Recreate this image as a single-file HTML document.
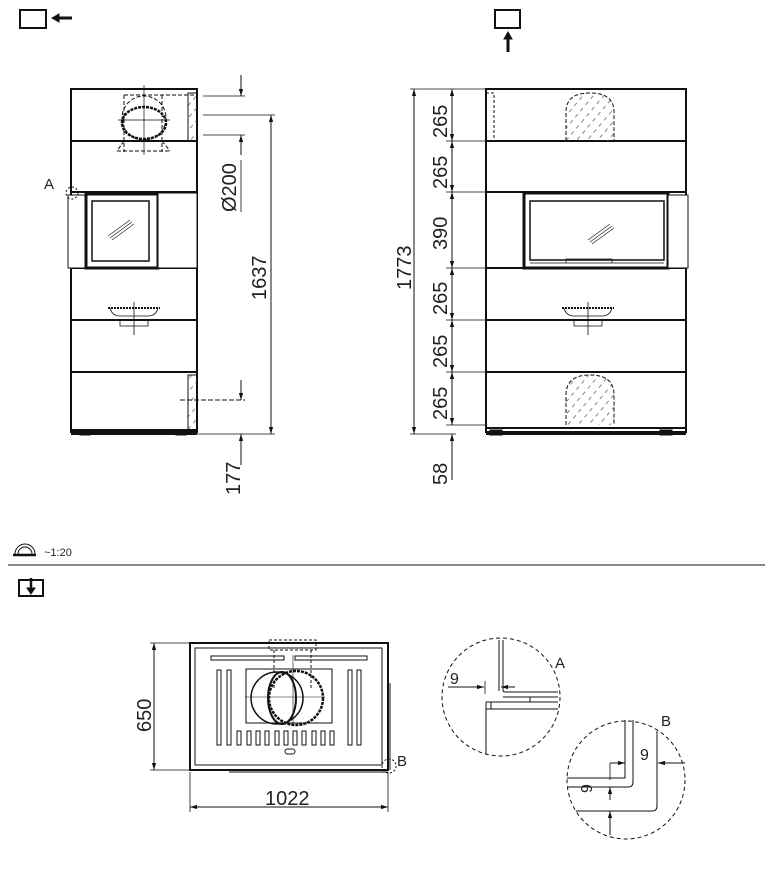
<!DOCTYPE html>
<html><head><meta charset="utf-8"><style>
html,body{margin:0;padding:0;background:#fff}
svg{display:block}
text{font-family:"Liberation Sans",sans-serif;fill:#222}
</style></head><body>
<svg width="778" height="883" viewBox="0 0 778 883" xmlns="http://www.w3.org/2000/svg">
<defs>
<marker id="ar" viewBox="0 0 10 10" refX="10" refY="5" markerWidth="7" markerHeight="7" orient="auto-start-reverse"><path d="M0,2 L10,5 L0,8 z" fill="#111"/></marker>
<pattern id="hat" width="8" height="8" patternUnits="userSpaceOnUse" patternTransform="rotate(-50)"><line x1="0" y1="4" x2="4" y2="4" stroke="#666" stroke-width="0.8"/></pattern>
</defs>
<g fill="none" stroke="#111" stroke-width="1">
<!-- icons -->
<rect x="20" y="10" width="26" height="18" stroke-width="2"/>
<path d="M58 18 L72 18" stroke-width="3"/><path d="M52 18 L59 14 L59 22 z" fill="#111"/>
<rect x="495" y="10" width="25" height="18" stroke-width="2"/>
<path d="M508 52 L508 38" stroke-width="3"/><path d="M508 32 L504 39 L512 39 z" fill="#111"/>

<!-- LEFT VIEW -->
<rect x="71" y="89" width="126" height="343" stroke-width="2"/>
<path d="M71 141H197M71 192H197M71 268H197M71 320H197M71 372H197" stroke-width="2"/>
<rect x="68" y="195" width="18" height="73" fill="#fff"/>
<rect x="86" y="194" width="72" height="74" stroke-width="3" fill="#fff"/>
<rect x="92" y="201" width="57" height="60" stroke-width="1.5"/>
<path d="M108 236 L130 220 M110 238 L132 222 M112 240 L134 224" stroke-width="0.6"/>
<rect x="158" y="193" width="39" height="75" fill="#fff"/>
<circle cx="72" cy="193" r="6" stroke-dasharray="2 2"/>
<text x="44" y="189" font-size="15" stroke="none">A</text>
<!-- chimney -->
<ellipse cx="144" cy="123" rx="22" ry="16" stroke-width="2.5" stroke-dasharray="3 1"/>
<circle cx="144" cy="118" r="22" stroke-dasharray="4 2"/>
<path d="M124 95V152M162 95V152M124 95H197M117 151H170M124 141 L117 151M162 141 L170 151" stroke-dasharray="4 2"/>
<path d="M144 85V155M118 120H170" stroke-width="0.7"/>
<rect x="188" y="93" width="9" height="48" fill="url(#hat)"/>
<!-- ash / grill -->
<path d="M108 308H160" stroke-width="2" stroke-dasharray="2 1"/>
<path d="M110 308 Q112 316 120 316 H148 Q156 316 158 308M120 320V326H148V320M134 302V335" stroke-width="0.8"/>
<rect x="188" y="375" width="9" height="55" fill="url(#hat)"/>
<path d="M180 400H245" stroke-dasharray="5 2"/>
<path d="M71 430H197M71 434H197" stroke-width="2"/>
<rect x="80" y="431" width="10" height="4" fill="#111"/>
<rect x="176" y="431" width="10" height="4" fill="#111"/>
<!-- left dims -->
<path d="M203 96H245M203 115H275M203 135H245M197 434H275" stroke-width="0.8"/>
<path d="M241 75V96" marker-end="url(#ar)"/>
<path d="M241 135V155" marker-start="url(#ar)"/>
<path d="M241 380V400" marker-end="url(#ar)"/>
<path d="M241 434V465" marker-start="url(#ar)"/>
<path d="M271 115V434" marker-start="url(#ar)" marker-end="url(#ar)"/>
<path d="M241 160V212" stroke-width="0.8"/>

<!-- RIGHT VIEW -->
<rect x="486" y="89" width="200" height="343" stroke-width="2"/>
<path d="M486 141H686M486 192H686M486 268H686M486 320H686M486 372H686" stroke-width="2"/>
<rect x="524" y="193" width="144" height="75" stroke-width="3" fill="#fff"/>
<rect x="530" y="201" width="134" height="59" stroke-width="1.5"/>
<path d="M530 263H664M566 263V259H612V263" stroke-width="0.8"/>
<path d="M588 240 L610 224 M590 242 L612 226 M592 244 L614 228" stroke-width="0.6"/>
<rect x="668" y="195" width="20" height="73" fill="#fff"/>
<path d="M566 141V112 Q566 93 590 93 Q614 93 614 112V141" stroke-dasharray="4 2" fill="url(#hat)"/>
<path d="M566 425V395 Q566 375 590 375 Q614 375 614 395V425" stroke-dasharray="4 2" fill="url(#hat)"/>
<path d="M486 93H494V141" stroke-dasharray="3 2"/>
<path d="M562 308H614" stroke-width="2" stroke-dasharray="2 1"/>
<path d="M564 308 Q566 316 574 316 H602 Q610 316 612 308M574 320V326H602V320M588 302V335" stroke-width="0.8"/>
<path d="M486 428H686M486 434H686" stroke-width="2"/>
<rect x="490" y="430" width="12" height="5" fill="#111"/><rect x="660" y="430" width="12" height="5" fill="#111"/>
<!-- right dims -->
<path d="M410 89H486M446 141H486M446 192H486M446 268H486M446 320H486M446 372H486M446 425H486M410 434H456" stroke-width="0.8"/>
<path d="M452 89V141" marker-start="url(#ar)" marker-end="url(#ar)"/>
<path d="M452 141V192" marker-start="url(#ar)" marker-end="url(#ar)"/>
<path d="M452 192V268" marker-start="url(#ar)" marker-end="url(#ar)"/>
<path d="M452 268V320" marker-start="url(#ar)" marker-end="url(#ar)"/>
<path d="M452 320V372" marker-start="url(#ar)" marker-end="url(#ar)"/>
<path d="M452 372V425" marker-start="url(#ar)" marker-end="url(#ar)"/>
<path d="M452 434V480" marker-start="url(#ar)"/>
<path d="M414 89V434" marker-start="url(#ar)" marker-end="url(#ar)"/>

<!-- separator -->
<path d="M8 565H765" stroke-width="1"/>
<path d="M13 555H36" stroke-width="2.5"/>
<path d="M15 554 A10 10 0 0 1 35 554M18 554 A7 7 0 0 1 32 554"/>
<rect x="19" y="580" width="24" height="16" stroke-width="2"/>
<path d="M31 578V590" stroke-width="2.5"/><path d="M31 594 L27 588 L35 588 z" fill="#111"/>

<!-- TOP VIEW -->
<rect x="190" y="643" width="198" height="127" stroke-width="2"/>
<rect x="195" y="648" width="187" height="117"/>
<path d="M390 683V770M229 772H388"/>
<rect x="211" y="656" width="73" height="4"/><rect x="295" y="656" width="72" height="4"/>
<rect x="217" y="670" width="4" height="75"/><rect x="227" y="670" width="4" height="75"/>
<rect x="348" y="670" width="4" height="75"/><rect x="357" y="670" width="4" height="75"/>
<rect x="246" y="669" width="86" height="54"/>
<rect x="269" y="640" width="47" height="10" stroke-dasharray="3 2"/>
<path d="M274 650V690M311 650V690" stroke-dasharray="3 2"/>
<circle cx="277" cy="698" r="26" stroke-width="1.5"/>
<circle cx="296" cy="698" r="27" stroke-width="2.5" stroke-dasharray="3 1"/>
<ellipse cx="282" cy="698" rx="14" ry="26" stroke-width="2"/>
<path d="M245 697H325M293 655V725" stroke-width="0.6"/>
<g>
<rect x="237" y="731" width="4" height="14"/><rect x="247" y="731" width="4" height="14"/><rect x="256" y="731" width="4" height="14"/><rect x="265" y="731" width="4" height="14"/><rect x="275" y="731" width="4" height="14"/><rect x="284" y="731" width="4" height="14"/><rect x="293" y="731" width="4" height="14"/><rect x="302" y="731" width="4" height="14"/><rect x="312" y="731" width="4" height="14"/><rect x="321" y="731" width="4" height="14"/><rect x="330" y="731" width="4" height="14"/>
</g>
<rect x="285" y="749" width="10" height="5" rx="2.5"/>
<circle cx="389" cy="766" r="7" stroke-dasharray="2 2"/>
<path d="M150 643H190M150 770H190M190 772V812M388 772V812" stroke-width="0.8"/>
<path d="M154 643V770" marker-start="url(#ar)" marker-end="url(#ar)"/>
<path d="M190 807H388" marker-start="url(#ar)" marker-end="url(#ar)"/>

<!-- DETAIL A -->
<circle cx="501" cy="697" r="59" stroke-dasharray="4 3"/>
<path d="M499 640V691M503 640V690Q503 692 505 692H558M503 697H558M486 702H558M486 709H558M486 702V754M491 702V709M530 697V702" />
<path d="M448 687H484" marker-end="url(#ar)"/>
<path d="M515 687H501" marker-end="url(#ar)"/>
<path d="M485 681V694" stroke-width="0.8"/>

<!-- DETAIL B -->
<circle cx="626" cy="780" r="59" stroke-dasharray="4 3"/>
<path d="M625 720V778H567M633 720V782Q633 787 628 787H567M657 731V806Q657 811 652 811H576"/>
<path d="M610 763H625" marker-end="url(#ar)"/>
<path d="M685 763H658" marker-end="url(#ar)"/>
<path d="M610 763V780" stroke-width="0.8"/>
<path d="M610 800V787" marker-end="url(#ar)"/>
<path d="M610 811V835" marker-start="url(#ar)"/>
</g>

<!-- TEXTS -->
<g font-size="20" stroke="none">
<text transform="translate(236,212) rotate(-90)">Ø200</text>
<text transform="translate(266,300) rotate(-90)">1637</text>
<text transform="translate(240,495) rotate(-90)">177</text>
<text transform="translate(411,290) rotate(-90)">1773</text>
<text transform="translate(447,138) rotate(-90)">265</text>
<text transform="translate(447,189) rotate(-90)">265</text>
<text transform="translate(447,250) rotate(-90)">390</text>
<text transform="translate(447,315) rotate(-90)">265</text>
<text transform="translate(447,368) rotate(-90)">265</text>
<text transform="translate(447,420) rotate(-90)">265</text>
<text transform="translate(447,485) rotate(-90)">58</text>
<text transform="translate(151,732) rotate(-90)">650</text>
<text x="265" y="805">1022</text>
</g>
<text x="44" y="556" font-size="11">~1:20</text>
<text x="397" y="766" font-size="15">B</text>
<text x="555" y="668" font-size="15">A</text>
<text x="661" y="726" font-size="15">B</text>
<text x="450" y="684" font-size="16">9</text>
<text x="640" y="760" font-size="16">9</text>
<text transform="translate(592,793) rotate(-90)" font-size="16">9</text>
</svg>
</body></html>
